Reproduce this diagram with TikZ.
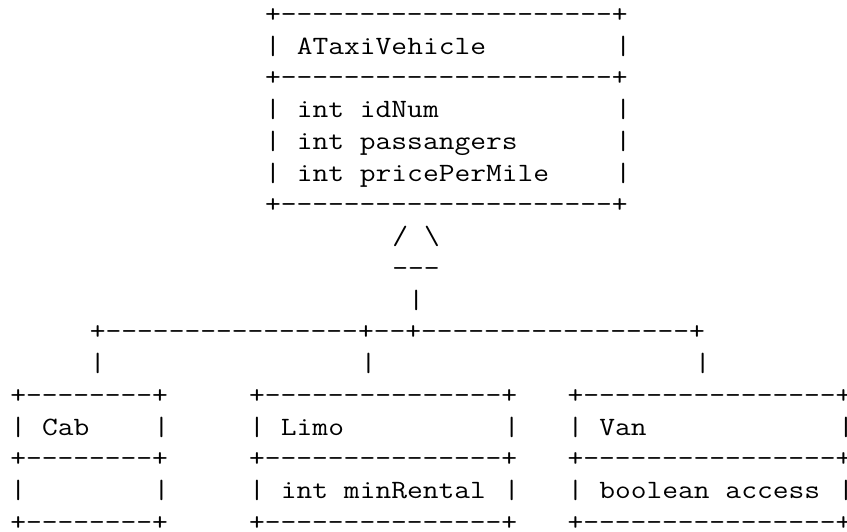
\documentclass[tikz,border=0pt]{standalone}
\usepackage{fontspec}
\setmonofont{Latin Modern Mono}[FakeStretch=1.16]
\tikzset{
  ascii/.style={anchor=base west, inner sep=0pt, outer sep=0pt, text depth=0pt,
    font=\ttfamily\fontsize{26.4pt}{31.8pt}\selectfont, text=black}
}
% place a named text node at (column, row) of the character grid
\newcommand\asc[4]{\node[ascii] (#1) at ({10.3pt+15.92pt*#2},{-22.4pt-31.75pt*#3}) {#4};}
\begin{document}
\begin{tikzpicture}
\fill[white] (0,0) rectangle (847pt,-531pt);
\useasboundingbox (0,0) rectangle (847pt,-531pt);
% ---- ATaxiVehicle box ----
\asc{topA}{16}{0}{+---------------------+}
\asc{topL1}{16}{1}{|}\asc{topName}{18}{1}{ATaxiVehicle}\asc{topR1}{38}{1}{|}
\asc{topB}{16}{2}{+---------------------+}
\asc{topL3}{16}{3}{|}\asc{attrA}{18}{3}{int idNum}\asc{topR3}{38}{3}{|}
\asc{topL4}{16}{4}{|}\asc{attrB}{18}{4}{int passangers}\asc{topR4}{38}{4}{|}
\asc{topL5}{16}{5}{|}\asc{attrC}{18}{5}{int pricePerMile}\asc{topR5}{38}{5}{|}
\asc{topC}{16}{6}{+---------------------+}
% ---- inheritance triangle ----
\asc{triL}{24}{7}{/}\asc{triR}{26}{7}{\textbackslash}
\asc{triB}{24}{8}{---}
\asc{stem}{25}{9}{|}
% ---- connector ----
\asc{bus}{5}{10}{+----------------+--+-----------------+}
\asc{dropA}{5}{11}{|}\asc{dropB}{22}{11}{|}\asc{dropC}{43}{11}{|}
% ---- Cab ----
\asc{cabA}{0}{12}{+--------+}
\asc{cabL1}{0}{13}{|}\asc{cabName}{2}{13}{Cab}\asc{cabR1}{9}{13}{|}
\asc{cabB}{0}{14}{+--------+}
\asc{cabL2}{0}{15}{|}\asc{cabR2}{9}{15}{|}
\asc{cabC}{0}{16}{+--------+}
% ---- Limo ----
\asc{limoA}{15}{12}{+---------------+}
\asc{limoL1}{15}{13}{|}\asc{limoName}{17}{13}{Limo}\asc{limoR1}{31}{13}{|}
\asc{limoB}{15}{14}{+---------------+}
\asc{limoL2}{15}{15}{|}\asc{limoAttr}{17}{15}{int minRental}\asc{limoR2}{31}{15}{|}
\asc{limoC}{15}{16}{+---------------+}
% ---- Van ----
\asc{vanA}{35}{12}{+----------------+}
\asc{vanL1}{35}{13}{|}\asc{vanName}{37}{13}{Van}\asc{vanR1}{52}{13}{|}
\asc{vanB}{35}{14}{+----------------+}
\asc{vanL2}{35}{15}{|}\asc{vanAttr}{37}{15}{boolean access}\asc{vanR2}{52}{15}{|}
\asc{vanC}{35}{16}{+----------------+}
\end{tikzpicture}
\end{document}
